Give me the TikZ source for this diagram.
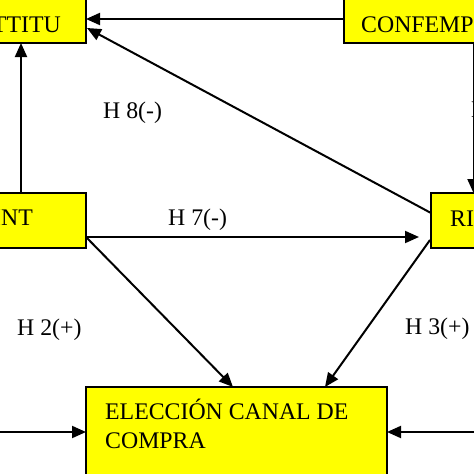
\documentclass[tikz,border=0pt]{standalone}
\usepackage{fontspec}
\setmainfont{Liberation Serif}
\usetikzlibrary{arrows.meta}
\definecolor{boxyellow}{HTML}{FFFF00}
\begin{document}
\begin{tikzpicture}[x=1pt,y=-1pt,
  box/.style={draw=black, fill=boxyellow, line width=1.6pt, inner sep=0pt},
  txt/.style={inner sep=0pt, font=\fontsize{23.8}{29}\selectfont},
  conn/.style={line width=2pt, -{Triangle[length=14pt,width=12pt]}}]
\useasboundingbox (0,0) rectangle (474,474);
\clip (0,0) rectangle (474,474);
% boxes
\node[box, minimum width=146pt, minimum height=73pt] (att) at (13,6.5) {};
\node[box, minimum width=176pt, minimum height=73pt] (conf) at (432,6.5) {};
\node[box, minimum width=146pt, minimum height=55pt] (int) at (13,220.5) {};
\node[box, minimum width=109pt, minimum height=55pt] (ri) at (485.5,220.5) {};
\node[box, minimum width=301pt, minimum height=133pt] (elec) at (236.5,453.5) {};
% box texts
\node[txt, anchor=base east] (attT) at (61,32) {TTITU};
\node[txt, anchor=base west] (confT) at (361,32) {CONFEMP};
\node[txt, anchor=base east] (intT) at (33,225) {INT};
\node[txt, anchor=base west] (riT) at (450,226) {RI};
\node[txt, anchor=base west] (elecA) at (105,419) {ELECCIÓN CANAL DE};
\node[txt, anchor=base west] (elecB) at (105,448) {COMPRA};
% connector points
\coordinate (c1) at (344,19);
\coordinate (a1) at (86,19);
\coordinate (r1) at (431,213);
\coordinate (a2) at (87,28);
\coordinate (i1) at (21,193);
\coordinate (a3) at (21,43);
\coordinate (i2) at (86,237);
\coordinate (r2) at (419,237);
\coordinate (e1) at (233,387);
\coordinate (r3) at (430,240);
\coordinate (e2) at (325,387);
\coordinate (c2) at (473.5,43);
\coordinate (r4) at (473.5,193);
\coordinate (lin) at (-10,432);
\coordinate (e3) at (86,432);
\coordinate (rin) at (490,432);
\coordinate (e4) at (387,432);
% connectors
\draw[conn] (c1) -- (a1);
\draw[conn] (r1) -- (a2);
\draw[conn] (i1) -- (a3);
\draw[conn] (i2) -- (r2);
\draw[conn] (i2) -- (e1);
\draw[conn] (r3) -- (e2);
\draw[conn] (c2) -- (r4);
\draw[conn] (lin) -- (e3);
\draw[conn] (rin) -- (e4);
% labels
\node[txt, anchor=base west] (h8) at (103,118) {H 8(-)};
\node[txt, anchor=base west] (h7) at (168,225) {H 7(-)};
\node[txt, anchor=base west] (h2) at (17,335) {H 2(+)};
\node[txt, anchor=base west] (h3) at (405,334) {H 3(+)};
\node[txt, anchor=base west] (hx) at (471,117) {H};
\end{tikzpicture}
\end{document}
